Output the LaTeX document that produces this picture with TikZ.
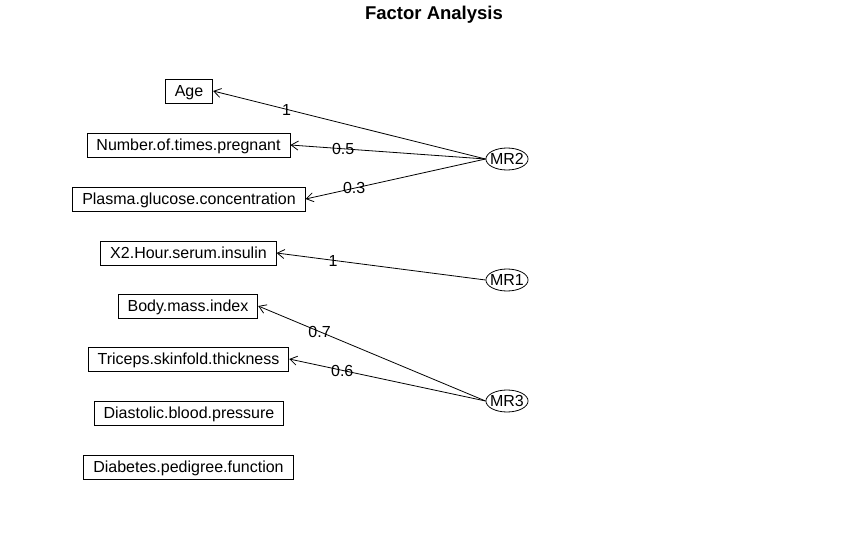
\documentclass[tikz,border=0pt]{standalone}
\usepackage{fontspec}
\setmainfont{Liberation Sans}
\usetikzlibrary{shapes.geometric,arrows.meta}
\begin{document}
\begin{tikzpicture}[x=1pt,y=-1pt,
  txt/.style={font=\fontsize{16}{19}\selectfont,text height=11.5pt,text depth=0pt},
  var/.style={txt,draw,line width=0.8pt,minimum height=24pt,inner xsep=9.5pt,inner ysep=0pt},
  fac/.style={txt,draw,line width=0.8pt,ellipse,minimum height=22pt,inner xsep=-2pt,inner ysep=2pt},
  load/.style={line width=0.8pt,{Straight Barb[length=7pt,width=9pt]}-},
  lab/.style={txt,inner sep=0pt,pos=0.27}]
\useasboundingbox (0,0) rectangle (865,549);
\node[font=\fontsize{18.5}{22}\selectfont\bfseries,text height=13.3pt,text depth=0pt,inner sep=0pt] (title) at (434,12.5) {Factor Analysis};
\node[var] (age) at (189,91) {Age};
\node[var] (preg) at (188.5,145) {Number.of.times.pregnant};
\node[var] (gluc) at (189,199) {Plasma.glucose.concentration};
\node[var] (ins) at (188.5,253) {X2.Hour.serum.insulin};
\node[var] (bmi) at (188,306) {Body.mass.index};
\node[var] (tri) at (188.5,359) {Triceps.skinfold.thickness};
\node[var] (dia) at (189,413) {Diastolic.blood.pressure};
\node[var] (ped) at (188.5,467) {Diabetes.pedigree.function};
\node[fac] (mr2) at (507,159) {MR2};
\node[fac] (mr1) at (507,280) {MR1};
\node[fac] (mr3) at (507,401) {MR3};
\draw[load] (age.east) -- node[lab]{1} (mr2.west);
\draw[load] (preg.east) -- node[lab]{0.5} (mr2.west);
\draw[load] (gluc.east) -- node[lab]{0.3} (mr2.west);
\draw[load] (ins.east) -- node[lab]{1} (mr1.west);
\draw[load] (bmi.east) -- node[lab]{0.7} (mr3.west);
\draw[load] (tri.east) -- node[lab]{0.6} (mr3.west);
\end{tikzpicture}
\end{document}
